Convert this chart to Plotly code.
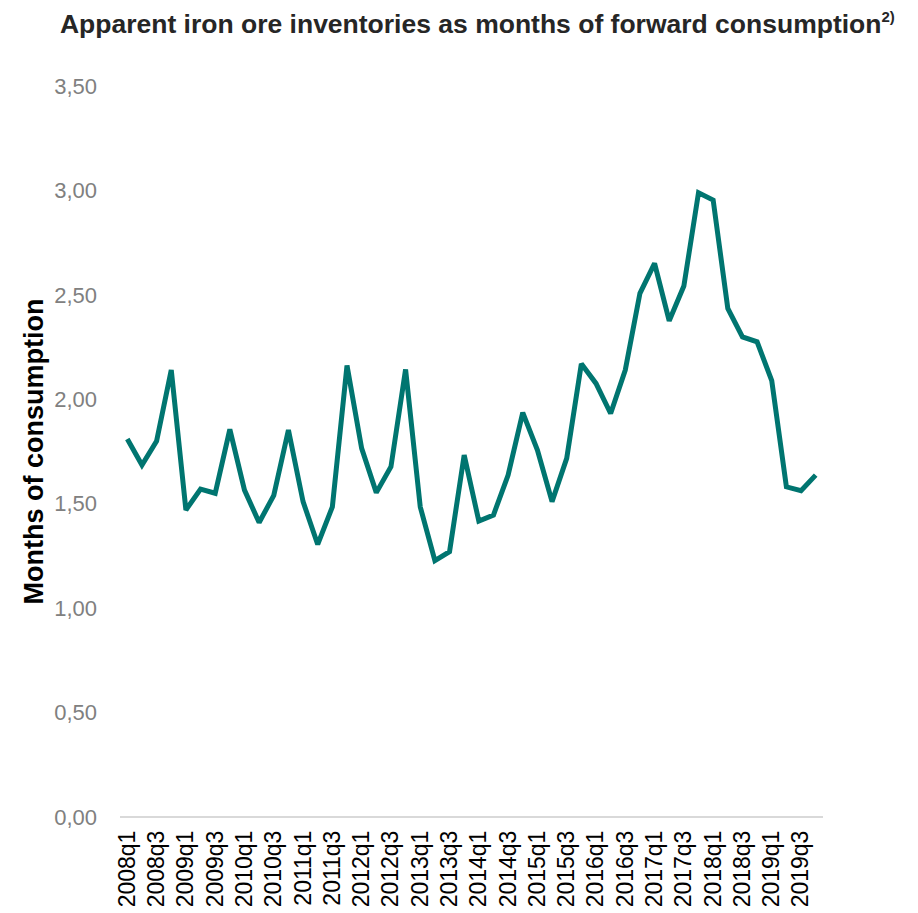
import plotly.graph_objects as go

# Quarterly categories 2008q1 .. 2019q4
years = list(range(2008, 2020))
quarters = [f"{y}q{q}" for y in years for q in range(1, 5)]

# Apparent iron ore inventories, months of forward consumption
months_of_consumption = [
    1.81, 1.685, 1.80, 2.14, 1.47, 1.57, 1.55, 1.856,
    1.565, 1.41, 1.54, 1.853, 1.51, 1.305, 1.485, 2.162,
    1.765, 1.553, 1.677, 2.143, 1.485, 1.227, 1.27, 1.733,
    1.417, 1.446, 1.637, 1.936, 1.757, 1.51, 1.717, 2.17,
    2.076, 1.932, 2.14, 2.507, 2.651, 2.376, 2.542, 2.989,
    2.954, 2.435, 2.299, 2.275, 2.089, 1.581, 1.562, 1.637,
]

# Label every second quarter (q1 and q3)
tick_labels = quarters[::2]
y_ticks = [0, 0.5, 1.0, 1.5, 2.0, 2.5, 3.0, 3.5]
y_tick_text = [f"{v:.2f}".replace(".", ",") for v in y_ticks]

fig = go.Figure()
fig.add_trace(go.Scatter(
    x=quarters,
    y=months_of_consumption,
    mode="lines",
    line=dict(color="#007570", width=5),
    hoverinfo="x+y",
))

fig.update_layout(
    width=918,
    height=913,
    margin=dict(l=120, r=95, t=86, b=96, autoexpand=False),
    paper_bgcolor="white",
    plot_bgcolor="white",
    showlegend=False,
    font=dict(family="Liberation Sans, Arial, sans-serif"),
    title=dict(
        text="<b>Apparent iron ore inventories as months of forward consumption"
             "<sup><span style='font-size:15px'>2)</span></sup></b>",
        font=dict(size=26.5, color="#262626", family="Liberation Sans, Arial, sans-serif"),
        x=0.52,
        xanchor="center",
        xref="container",
        y=1 - 24 / 913,
        yanchor="middle",
        yref="container",
    ),
    xaxis=dict(
        type="category",
        categoryorder="array",
        categoryarray=quarters,
        range=[-0.5, len(quarters) - 0.5],
        tickmode="array",
        tickvals=tick_labels,
        ticktext=tick_labels,
        tickangle=-90,
        tickfont=dict(size=23, color="#000000"),
        showgrid=False,
        showline=False,
        ticks="",
        ticklabelstandoff=8,
        zeroline=False,
        automargin=False,
    ),
    yaxis=dict(
        range=[0, 3.5],
        tickmode="array",
        tickvals=y_ticks,
        ticktext=y_tick_text,
        tickfont=dict(size=22, color="#808080"),
        showgrid=False,
        zeroline=True,
        zerolinecolor="#d9d9d9",
        zerolinewidth=2,
        showline=False,
        ticks="",
        ticklabelstandoff=22,
        automargin=False,
        title=dict(
            text="<b>Months of consumption</b>",
            font=dict(size=27, color="#000000"),
            standoff=2,
        ),
    ),
)

fig.write_html("out.html")
